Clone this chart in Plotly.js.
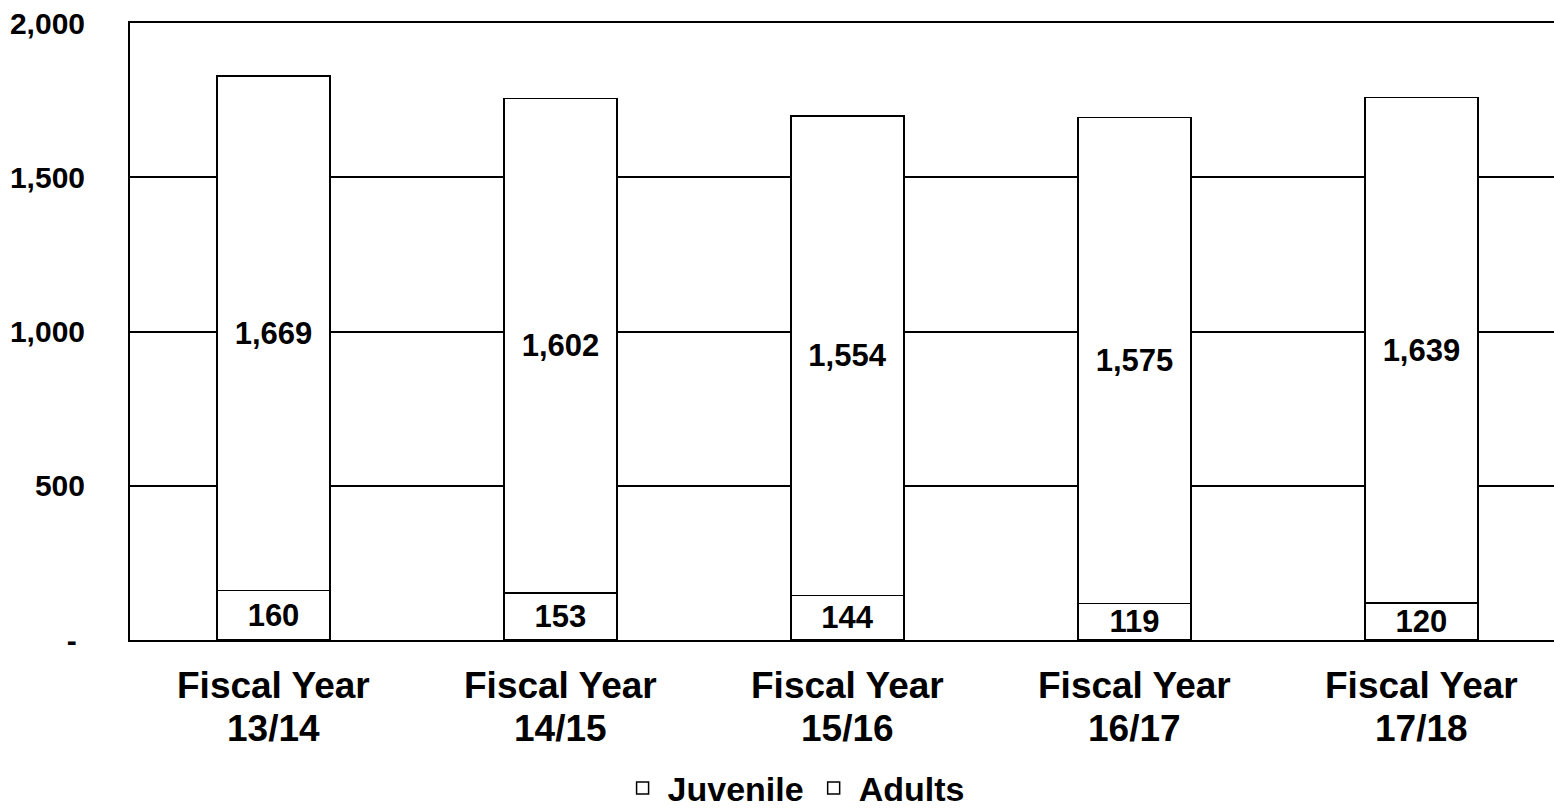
<!DOCTYPE html>
<html>
<head>
<meta charset="utf-8">
<script src="https://cdn.plot.ly/plotly-3.0.1.min.js"></script>
<style>
  html, body { margin: 0; padding: 0; background: #fff; }
  #chart { width: 1554px; height: 811px; }
</style>
</head>
<body>
<div id="chart"></div>
<script>
// ---- data ----
var categories = ["13/14", "14/15", "15/16", "16/17", "17/18"];
var labelPrefix = "Fiscal Year";
var juvenile = [160, 153, 144, 119, 120];
var adults = [1669, 1602, 1554, 1575, 1639];
var yTickVals = [0, 500, 1000, 1500, 2000];
var yTickText = ["-&nbsp;", "500", "1,000", "1,500", "2,000"];

var FONT = "Liberation Sans, Arial, Helvetica, sans-serif";
var xIdx = categories.map(function (c, i) { return i; });
function fmt(v) { return v.toLocaleString("en-US"); }

var common = {
  type: "bar",
  x: xIdx,
  width: 0.394,
  marker: { color: "#ffffff", line: { color: "#000000", width: 1.5 } },
  textposition: "inside",
  insidetextanchor: "middle",
  textangle: 0,
  constraintext: "none",
  textfont: { family: FONT, size: 31, color: "#000000", weight: "bold" },
  hoverinfo: "skip"
};

var tJuv = Object.assign({}, common, {
  name: "Juvenile",
  y: juvenile,
  text: juvenile.map(fmt)
});
var tAdu = Object.assign({}, common, {
  name: "Adults",
  y: adults,
  text: adults.map(fmt)
});

var annotations = [];
categories.forEach(function (c, i) {
  annotations.push({
    x: i, xref: "x", y: -0.073, yref: "paper", yanchor: "middle",
    text: labelPrefix, showarrow: false,
    font: { family: FONT, size: 37, color: "#000", weight: "bold" }
  });
  annotations.push({
    x: i, xref: "x", y: -0.143, yref: "paper", yanchor: "middle",
    text: c, showarrow: false,
    font: { family: FONT, size: 37, color: "#000", weight: "bold" }
  });
});

var layout = {
  width: 1554, height: 811,
  margin: { l: 130, r: 0, t: 23, b: 171, pad: 0, autoexpand: false },
  paper_bgcolor: "#ffffff",
  plot_bgcolor: "#ffffff",
  barmode: "stack",
  bargap: 0,
  showlegend: true,
  legend: {
    orientation: "h",
    xref: "paper", x: 0.466, xanchor: "center",
    yref: "container", y: 0.028, yanchor: "middle",
    font: { family: FONT, size: 34, color: "#000", weight: "bold" },
    itemwidth: 40,
    tracegroupgap: 0,
    traceorder: "normal"
  },
  xaxis: {
    range: [-0.5, 4.462],
    showticklabels: false,
    showgrid: false,
    zeroline: false,
    showline: true, linecolor: "#000", linewidth: 2,
    mirror: true,
    ticks: "", fixedrange: true
  },
  yaxis: {
    range: [0, 2000],
    tickvals: yTickVals,
    ticktext: yTickText,
    tickfont: { family: FONT, size: 30, color: "#000", weight: "bold" },
    showgrid: true, gridcolor: "#000", gridwidth: 2,
    zeroline: false,
    showline: true, linecolor: "#000", linewidth: 2,
    ticks: "",
    ticklabelstandoff: 37,
    fixedrange: true
  },
  annotations: annotations
};

Plotly.newPlot("chart", [tJuv, tAdu], layout, { staticPlot: true, displayModeBar: false });
</script>
</body>
</html>
